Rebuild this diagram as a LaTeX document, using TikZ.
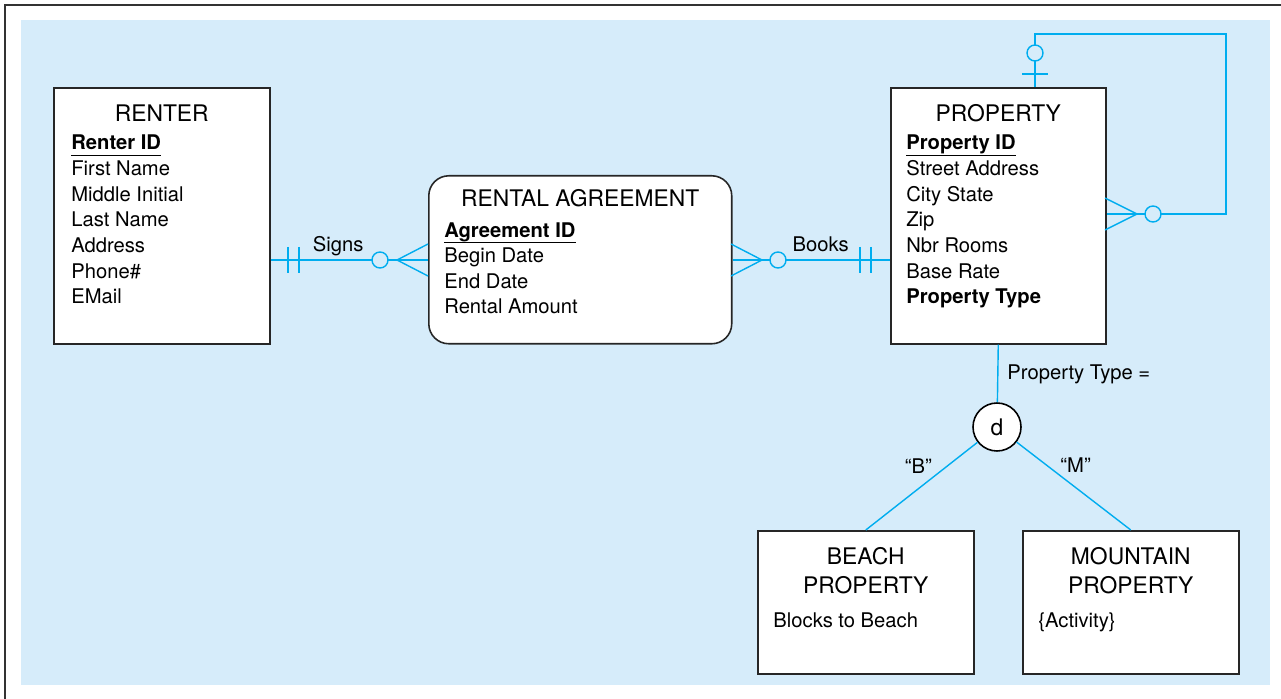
\documentclass[tikz,border=0pt]{standalone}
\usepackage{fontspec}
\setmainfont{TeX Gyre Heros}
\usetikzlibrary{calc}
\definecolor{erblue}{RGB}{0,173,239}
\definecolor{erback}{RGB}{214,236,250}
\newcommand{\pkey}[1]{\setbox0\hbox{\bfseries #1}\rlap{\rule[-3.4pt]{\wd0}{0.7pt}}\box0}

\begin{document}
\begin{tikzpicture}[x=0.02cm,y=-0.02cm,
  entity/.style={draw=black!85,line width=0.9pt,fill=white,anchor=north west,inner sep=0pt},
  title/.style={font=\fontsize{13}{15}\selectfont,anchor=base,inner sep=0pt},
  attr/.style={font=\fontsize{11.5}{14}\selectfont,anchor=base west,inner sep=0pt},
  lbl/.style={font=\fontsize{11.5}{14}\selectfont,inner sep=0pt},
  rel/.style={draw=erblue,line width=0.8pt},
  ring/.style={draw=erblue,line width=0.8pt,fill=erback}]
  % 1 unit = 1 px of the 1281 x 699 sheet, y runs downwards
  \def\sy{260}  % Signs / Books line
  \def\ly{214}  % self loop, right end
  \def\lx{1035} % self loop, top end

  \useasboundingbox (0,0) rectangle (1281,699);
  \draw[line width=1.2pt,black!80] (5,699) |- (1281,5);
  \fill[erback] (21,20) rectangle (1270,685);

  % entities
  \node[entity,minimum width=4.32cm,minimum height=5.12cm] (renter) at (53,87) {};
  \node[entity,rounded corners=0.4cm,minimum width=6.06cm,minimum height=3.36cm]
    (agree) at (428,175) {};
  \node[entity,minimum width=4.30cm,minimum height=5.12cm] (prop) at (890,87) {};
  \node[entity,minimum width=4.32cm,minimum height=2.86cm] (beach) at (757,530) {};
  \node[entity,minimum width=4.32cm,minimum height=2.86cm] (mount) at (1022,530) {};
  \node[circle,draw=black,line width=0.9pt,fill=white,minimum size=0.96cm,inner sep=0pt,
    font=\fontsize{13}{15}\selectfont] (disj) at (997,427) {d};

  % titles
  \node[title] (renter-t) at ($(renter.north)+(0,35)$) {RENTER};
  \node[title] (agree-t) at ($(agree.north)+(0,32)$) {RENTAL AGREEMENT};
  \node[title] (prop-t) at ($(prop.north)+(0,35)$) {PROPERTY};
  \node[title] (beach-t1) at ($(beach.north)+(0,34)$) {BEACH};
  \node[title] (beach-t2) at ($(beach.north)+(0,63)$) {PROPERTY};
  \node[title] (mount-t1) at ($(mount.north)+(0,34)$) {MOUNTAIN};
  \node[title] (mount-t2) at ($(mount.north)+(0,63)$) {PROPERTY};

  % attributes
  \foreach \a [count=\i] in {\pkey{Renter ID},First Name,Middle Initial,Last Name,
      Address,Phone\#,EMail}
    \node[attr] (renter-\i) at ($(renter.north west)+(18,37.4+25.6*\i)$) {\a};
  \foreach \a [count=\i] in {\pkey{Agreement ID},Begin Date,End Date,Rental Amount}
    \node[attr] (agree-\i) at ($(agree.north west)+(16,36.5+25.5*\i)$) {\a};
  \foreach \a [count=\i] in {\pkey{Property ID},Street Address,City State,Zip,
      Nbr Rooms,Base Rate,\textbf{Property Type}}
    \node[attr] (prop-\i) at ($(prop.north west)+(16,37.4+25.6*\i)$) {\a};
  \node[attr] (beach-1) at ($(beach.north west)+(16,97)$) {Blocks to Beach};
  \node[attr] (mount-1) at ($(mount.north west)+(16,97)$) {\{Activity\}};

  % Signs
  \draw[rel] (renter.east |- 0,\sy) -- (agree.west |- 0,\sy)
    node[lbl,pos=0.43,anchor=base,yshift=4.8pt] (signs) {Signs};
  \draw[rel] (288,247) -- (288,273) (299,247) -- (299,273);
  \draw[rel] (428,244) -- (397,\sy) -- (428,276);
  \draw[ring] (380,\sy) circle (0.16cm);

  % Books
  \draw[rel] (agree.east |- 0,\sy) -- (prop.west |- 0,\sy)
    node[lbl,pos=0.56,anchor=base,yshift=4.8pt] (books) {Books};
  \draw[rel] (731,244) -- (762,\sy) -- (731,276);
  \draw[rel] (860,247) -- (860,273) (871,247) -- (871,273);
  \draw[ring] (778,\sy) circle (0.16cm);

  % self loop on PROPERTY
  \coordinate (corner) at (1226,34);
  \draw[rel] (prop.north -| \lx,0) |- (corner) |- (prop.east |- 0,\ly);
  \draw[rel] (1022,74) -- (1048,74);
  \draw[ring] (\lx,53) circle (0.16cm);
  \draw[rel] (1105,198) -- (1137,\ly) -- (1105,230);
  \draw[ring] (1153,\ly) circle (0.16cm);

  % subtypes
  \draw[rel] (prop.south) -- (disj)
    node[lbl,pos=0.6,anchor=base west,xshift=0.18cm] (ptype) {Property Type =};
  \draw[rel] (disj) -- (beach.north)
    node[lbl,pos=0.35,anchor=base,xshift=-0.4cm] (bq) {``B''};
  \draw[rel] (disj) -- (mount.north)
    node[lbl,pos=0.35,anchor=base,xshift=0.38cm] (mq) {``M''};
\end{tikzpicture}
\end{document}
